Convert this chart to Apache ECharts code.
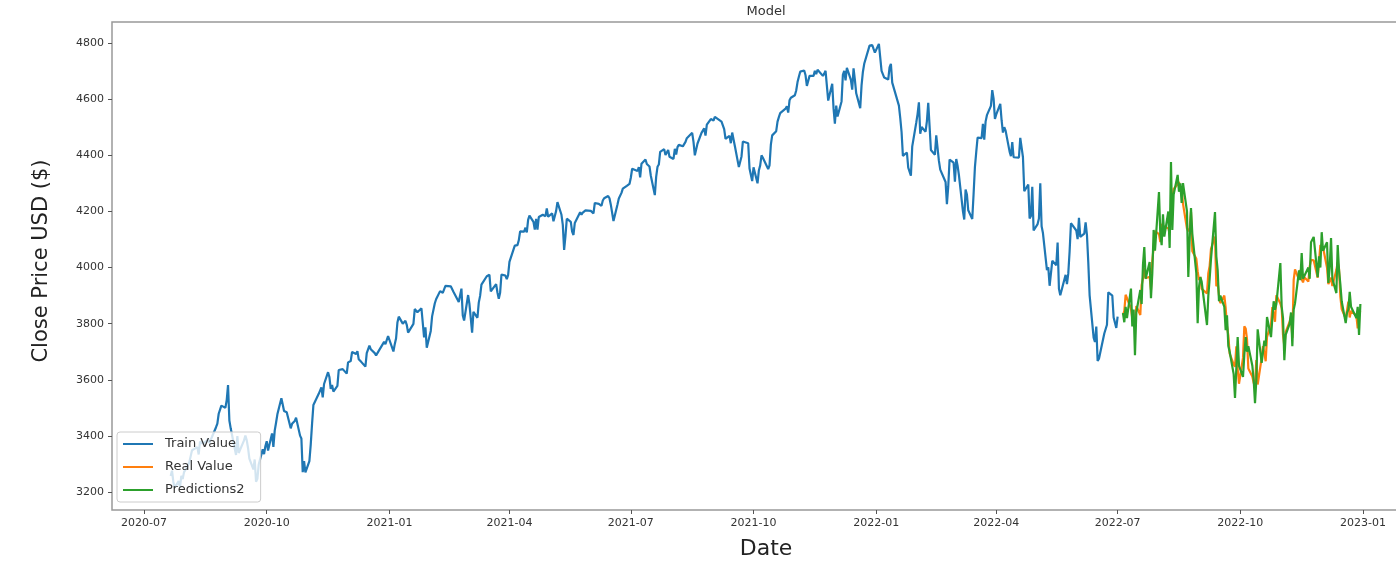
<!DOCTYPE html>
<html>
<head>
<meta charset="utf-8">
<script src="https://cdn.jsdelivr.net/npm/echarts@6/dist/echarts.min.js"></script>
<style>
  html, body { margin: 0; padding: 0; background: #fff; }
  #chart { width: 1396px; height: 562px; }
</style>
</head>
<body>
<div id="chart"></div>
<script>
// daily closes, one row per week (Mon..Fri), null = market closed
const trainStart = '2020-07-20';
const trainWeeks = [
  [null, 3257, 3276, 3236, 3216], [3239, 3218, 3258, 3246, 3271], [3295, 3307, 3328, 3349, 3351],
  [3360, 3334, 3380, 3373, 3373], [3382, 3390, 3375, 3386, 3397], [3431, 3444, 3479, 3485, 3508],
  [3500, 3527, 3581, 3455, 3427], [null, 3332, 3399, 3339, 3341], [3384, 3401, 3385, 3357, 3319],
  [3281, 3316, 3237, 3247, 3298], [3352, 3335, 3363, 3381, 3348], [3409, 3361, 3419, 3447, 3477],
  [3534, 3512, 3489, 3483, 3484], [3427, 3443, 3436, 3453, 3465], [3401, 3391, 3271, 3310, 3270],
  [3310, 3369, 3443, 3510, 3509], [3550, 3546, 3573, 3537, 3585], [3627, 3610, 3568, 3582, 3558],
  [3578, 3635, 3630, null, 3638], [3622, 3662, 3669, 3667, 3699], [3692, 3702, 3673, 3668, 3663],
  [3647, 3695, 3701, 3722, 3709], [3695, 3687, 3690, 3703, null], [3735, 3727, 3732, 3756, null],
  [3701, 3727, 3748, 3804, 3825], [3800, 3801, 3810, 3796, 3768], [null, 3799, 3852, 3853, 3841],
  [3855, 3850, 3751, 3787, 3714], [3774, 3826, 3830, 3872, 3887], [3916, 3911, 3910, 3916, 3935],
  [null, 3933, 3931, 3914, 3907], [3877, 3881, 3925, 3829, 3811], [3902, 3870, 3820, 3768, 3842],
  [3821, 3875, 3899, 3939, 3943], [3969, 3963, 3974, 3915, 3913], [3941, 3911, 3889, 3910, 3975],
  [3971, 3959, 3973, 4020, null], [4078, 4074, 4080, 4097, 4129], [4128, 4142, 4125, 4170, 4185],
  [4163, 4135, 4173, 4135, 4180], [4188, 4187, 4183, 4211, 4181], [4193, 4165, 4168, 4202, 4233],
  [4188, 4152, 4063, 4113, 4174], [4163, 4128, 4116, 4159, 4156], [4197, 4188, 4196, 4201, 4204],
  [null, 4202, 4208, 4193, 4230], [4227, 4227, 4220, 4239, 4247], [4255, 4247, 4224, 4222, 4166],
  [4225, 4246, 4242, 4266, 4281], [4291, 4292, 4298, 4320, 4352], [null, 4344, 4358, 4321, 4370],
  [4385, 4369, 4374, 4360, 4327], [4258, 4323, 4359, 4367, 4412], [4422, 4401, 4401, 4419, 4395],
  [4387, 4423, 4403, 4429, 4437], [4432, 4437, 4448, 4461, 4468], [4480, 4448, 4400, 4406, 4442],
  [4480, 4486, 4496, 4470, 4509], [4529, 4523, 4524, 4537, 4535], [null, 4520, 4514, 4493, 4459],
  [4469, 4443, 4481, 4474, 4433], [4358, 4354, 4396, 4449, 4455], [4443, 4353, 4359, 4308, 4357],
  [4300, 4346, 4364, 4400, 4391], [4361, 4351, 4364, 4438, 4471], [4486, 4520, 4536, 4550, 4545],
  [4566, 4575, 4552, 4596, 4605], [4614, 4631, 4661, 4680, 4698], [4702, 4685, 4647, 4649, 4683],
  [4683, 4701, 4689, 4705, 4698], [4683, 4691, 4701, null, 4595], [4655, 4567, 4513, 4577, 4538],
  [4592, 4687, 4701, 4667, 4712], [4669, 4634, 4710, 4669, 4621], [4568, 4649, 4697, 4726, null],
  [4791, 4786, 4793, 4779, 4766], [4797, 4794, 4701, 4696, 4677], [4670, 4713, 4726, 4659, 4663],
  [null, 4577, 4533, 4483, 4398], [4410, 4356, 4350, 4327, 4432], [4516, 4547, 4589, 4477, 4501],
  [4484, 4522, 4587, 4504, 4419], [4402, 4471, 4475, 4380, 4349], [null, 4305, 4226, 4289, 4385],
  [4374, 4306, 4387, 4363, 4329], [4201, 4171, 4278, 4260, 4204], [4173, 4262, 4358, 4412, 4463],
  [4461, 4512, 4456, 4520, 4543], [4576, 4632, 4602, 4530, 4546], [4583, 4525, 4481, 4500, 4488],
  [4413, 4397, 4447, 4393, null], [4392, 4462, 4459, 4394, 4272], [4296, 4175, 4184, 4288, 4132],
  [4155, 4175, 4300, 4147, 4123], [3991, 4001, 3935, 3930, 4024], [4008, 4089, 3924, 3901, 3901],
  [3974, 3941, 3979, 4058, 4158], [null, 4132, 4101, 4177, 4109], [4121, 4161, 4116, 4018, 3901],
  [3750, 3735, 3790, 3667, 3675], [null, 3765, 3760, 3796, 3912], [3900, 3822, 3819, 3785, 3825]
];

const validStart = '2022-07-04';
const realWeeks = [
  [null, 3831, 3845, 3903, 3899], [3854, 3819, 3802, 3790, 3863], [3831, 3937, 3960, 3999, 3962],
  [3967, 3921, 4024, 4072, 4130], [4119, 4091, 4155, 4152, 4145], [4140, 4122, 4210, 4207, 4280],
  [4297, 4305, 4274, 4284, 4228], [4138, 4129, 4141, 4199, 4058], [4031, 3986, 3955, 3967, 3924],
  [null, 3908, 3980, 4006, 4067], [4110, 3933, 3946, 3901, 3873], [3900, 3856, 3790, 3758, 3693],
  [3655, 3647, 3719, 3640, 3586], [3678, 3791, 3783, 3745, 3640], [3612, 3589, 3577, 3670, 3583],
  [3678, 3720, 3695, 3666, 3753], [3797, 3859, 3831, 3807, 3901], [3872, 3856, 3760, 3720, 3771],
  [3807, 3828, 3749, 3956, 3993], [3957, 3992, 3959, 3947, 3965], [3950, 4004, 4027, null, 4026],
  [3964, 3958, 4080, 4077, 4072], [3999, 3941, 3934, 3964, 3934], [3991, 4020, 3995, 3896, 3852],
  [3818, 3822, 3878, 3822, 3845], [null, 3829, 3783, 3849, 3840]
];
const predWeeks = [
  [null, 3838, 3805, 3860, 3820], [3925, 3790, 3850, 3688, 3840], [3920, 3870, 4010, 4073, 3960],
  [4020, 3891, 3980, 4134, 4060], [4269, 4120, 4080, 4190, 4110], [4200, 4070, 4376, 4134, 4260],
  [4330, 4270, 4300, 4230, 4301], [4200, 3966, 4100, 4212, 4120], [3980, 3802, 3930, 3966, 3950],
  [null, 3795, 3900, 3960, 4030], [4198, 4040, 3991, 3880, 3900], [3860, 3777, 3830, 3720, 3700],
  [3620, 3535, 3640, 3752, 3650], [3610, 3690, 3752, 3700, 3720], [3650, 3600, 3517, 3600, 3780],
  [3660, 3700, 3740, 3720, 3824], [3752, 3820, 3880, 3850, 3870], [4016, 3860, 3820, 3670, 3760],
  [3800, 3840, 3720, 3850, 3873], [3990, 3955, 4052, 3960, 3955], [4000, 3960, 4090, null, 4109],
  [3966, 4040, 4000, 4126, 4060], [4090, 3945, 4000, 4105, 3960], [3909, 4080, 3990, 3940, 3880],
  [3802, 3840, 3850, 3913, 3860], [null, 3820, 3860, 3760, 3870]
];

const xTickDates = ['2020-07-01', '2020-10-01', '2021-01-01', '2021-04-01', '2021-07-01', '2021-10-01',
  '2022-01-01', '2022-04-01', '2022-07-01', '2022-10-01', '2023-01-01'];
const yTicks = [3200, 3400, 3600, 3800, 4000, 4200, 4400, 4600, 4800];

const toTime = s => new Date(s + 'T00:00:00').getTime();

function weeksToPoints(start, weeks) {
  const t0 = new Date(start + 'T00:00:00');
  const pts = [];
  weeks.forEach((week, w) => {
    week.forEach((v, d) => {
      if (v === null) return;
      const t = new Date(t0);
      t.setDate(t0.getDate() + w * 7 + d);
      pts.push([t.getTime(), v]);
    });
  });
  return pts;
}

const font = 'DejaVu Sans';
const chart = echarts.init(document.getElementById('chart'));

chart.setOption({
  animation: false,
  backgroundColor: '#fff',
  title: {
    text: 'Model',
    left: 761,
    top: 0,
    textAlign: 'center',
    textStyle: { fontFamily: font, fontSize: 13, fontWeight: 'normal', color: '#333' }
  },
  legend: {
    orient: 'vertical',
    left: 117,
    top: 432,
    icon: 'rect',
    itemWidth: 30,
    itemHeight: 2,
    itemGap: 9,
    padding: [5, 16, 5, 6],
    backgroundColor: 'rgba(255,255,255,0.8)',
    borderColor: '#cccccc',
    borderWidth: 1,
    borderRadius: 3,
    textStyle: { fontFamily: font, fontSize: 13, color: '#333', lineHeight: 14, padding: [0, 0, 0, 7] }
  },
  grid: {
    // plot box runs past the right edge of the picture, as in the reference
    left: 112,
    top: 22,
    right: -24,
    bottom: 52,
    containLabel: false,
    outerBoundsMode: 'none',
    show: true,
    borderColor: '#999',
    borderWidth: 1.5,
    backgroundColor: '#fff'
  },
  xAxis: {
    // dates as timestamps on a value axis, so the quarter ticks can be placed exactly
    type: 'value',
    min: toTime('2020-06-07'),
    max: toTime('2023-02-12') + 17 * 3600 * 1000,
    name: 'Date',
    nameLocation: 'middle',
    nameGap: 28,
    nameTextStyle: { fontFamily: font, fontSize: 22, color: '#222' },
    axisLine: { show: false },
    axisTick: { show: true, length: 4, lineStyle: { color: '#555' }, customValues: xTickDates.map(toTime) },
    axisLabel: {
      fontFamily: font, fontSize: 11, color: '#333', margin: 8,
      customValues: xTickDates.map(toTime),
      formatter: v => echarts.time.format(v, '{yyyy}-{MM}', false)
    },
    splitLine: { show: false }
  },
  yAxis: {
    type: 'value',
    min: 3136,
    max: 4875,
    name: 'Close Price USD ($)',
    nameLocation: 'middle',
    nameGap: 60,
    nameTextStyle: { fontFamily: font, fontSize: 21, color: '#222', padding: [0, 0, 0, 10] },
    axisLine: { show: false },
    axisTick: { show: true, length: 4, lineStyle: { color: '#555' }, customValues: yTicks },
    axisLabel: { fontFamily: font, fontSize: 11, color: '#333', margin: 8, customValues: yTicks, formatter: v => String(v) },
    splitLine: { show: false }
  },
  series: [
    {
      name: 'Train Value', type: 'line', showSymbol: false, symbol: 'none',
      data: weeksToPoints(trainStart, trainWeeks),
      lineStyle: { color: '#1f77b4', width: 2.2 }, itemStyle: { color: '#1f77b4' }
    },
    {
      name: 'Real Value', type: 'line', showSymbol: false, symbol: 'none',
      data: weeksToPoints(validStart, realWeeks),
      lineStyle: { color: '#ff7f0e', width: 2.2 }, itemStyle: { color: '#ff7f0e' }
    },
    {
      name: 'Predictions2', type: 'line', showSymbol: false, symbol: 'none',
      data: weeksToPoints(validStart, predWeeks),
      lineStyle: { color: '#2ca02c', width: 2.2 }, itemStyle: { color: '#2ca02c' }
    }
  ]
});
</script>
</body>
</html>
